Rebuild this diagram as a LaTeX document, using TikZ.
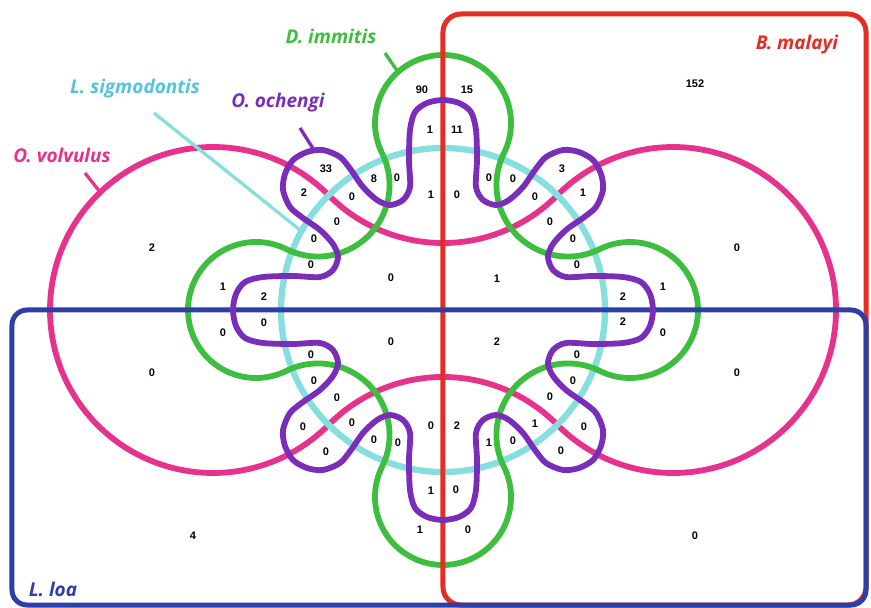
\documentclass[tikz,border=0pt]{standalone}
\usepackage{fontspec}
\setmainfont{Open Sans}
\newfontfamily\numfont{Liberation Sans}
\usepackage{xcolor}
\definecolor{cMal}{RGB}{228,45,35}
\definecolor{cLoa}{RGB}{45,62,165}
\definecolor{cDim}{RGB}{62,190,62}
\definecolor{cSig}{RGB}{135,222,222}
\definecolor{cSigTxt}{RGB}{85,195,220}
\definecolor{cOch}{RGB}{122,45,185}
\definecolor{cVol}{RGB}{230,50,140}

\begin{document}
\begin{tikzpicture}[
  x=1pt,y=1pt,
  set/.style={line width=5.8pt},
  box/.style={line width=5pt},
  tick/.style={line width=3.3pt},
  num/.style={font=\numfont\bfseries\fontsize{11}{12}\selectfont,inner sep=0pt},
  lab/.style={font=\bfseries\itshape\fontsize{19}{22}\selectfont,inner sep=0pt}
]
\useasboundingbox (-443,-298) rectangle (428,310);

% O. volvulus: two lobes joined by two arcs
\draw[set,cVol] (-230,0) ++(44.68:163)
  arc[start angle=44.68,end angle=315.32,radius=163]
  arc[start angle=135.32,end angle=44.68,radius=160.5]
  arc[start angle=224.68,end angle=495.32,radius=163]
  arc[start angle=-44.68,end angle=-135.32,radius=160.5] -- cycle;

% L. sigmodontis
\draw[set,cSig,line width=6.3pt] (0,0) circle[radius=162];

% D. immitis: four lobes
\draw[set,cDim] (60.92,156.78)
  arc[start angle=-26.38,end angle=206.38,radius=68]
  arc[start angle=26.38,end angle=-116.38,radius=71.53]
  arc[start angle=63.62,end angle=296.38,radius=68]
  arc[start angle=116.38,end angle=-26.38,radius=71.53]
  arc[start angle=153.62,end angle=386.38,radius=68]
  arc[start angle=206.38,end angle=63.62,radius=71.53]
  arc[start angle=-116.38,end angle=116.38,radius=68]
  arc[start angle=296.38,end angle=153.62,radius=71.53] -- cycle;

% B. malayi and L. loa
\draw[box,cMal,rounded corners=18] (0,-295) rectangle (423,296);
\draw[box,cLoa,rounded corners=15] (-431,-295) rectangle (423,0);

% O. ochengi
\draw[set,cOch] plot[smooth cycle] coordinates {
  (0,210) (-16,207) (-28,198) (-33,180) (-34,150) (-33,123) (-40,110) (-53,105)
  (-66,110) (-80,123) (-92,140) (-103,153) (-120,160) (-136,158) (-150,150)
  (-158,136) (-160,120) (-153,103) (-140,92) (-123,80) (-110,66) (-105,53)
  (-110,40) (-123,33) (-150,34) (-180,33) (-198,28) (-207,16)
  (-210,0) (-207,-16) (-198,-28) (-180,-33) (-150,-34) (-123,-33) (-110,-40)
  (-105,-53) (-110,-66) (-123,-80) (-140,-92) (-153,-103) (-160,-120) (-158,-136)
  (-150,-150) (-136,-158) (-120,-160) (-103,-153) (-92,-140) (-80,-123) (-66,-110)
  (-53,-105) (-40,-110) (-33,-123) (-34,-150) (-33,-180) (-28,-198) (-16,-207)
  (0,-210) (16,-207) (28,-198) (33,-180) (34,-150) (33,-123) (40,-110) (53,-105)
  (66,-110) (80,-123) (92,-140) (103,-153) (120,-160) (136,-158) (150,-150)
  (158,-136) (160,-120) (153,-103) (140,-92) (123,-80) (110,-66) (105,-53)
  (110,-40) (123,-33) (150,-34) (180,-33) (198,-28) (207,-16)
  (210,0) (207,16) (198,28) (180,33) (150,34) (123,33) (110,40) (105,53)
  (110,66) (123,80) (140,92) (153,103) (160,120) (158,136) (150,150)
  (136,158) (120,160) (103,153) (92,140) (80,123) (66,110) (53,105)
  (40,110) (33,123) (34,150) (33,180) (28,198) (16,207)};

% set names
\node[lab,text=cDim] (dim) at (-112,274) {D. immitis};
\node[lab,text=cSigTxt] (sig) at (-308,221) {L. sigmodontis};
\node[lab,text=cOch] (och) at (-165,207) {O. ochengi};
\node[lab,text=cVol] (vol) at (-381,155) {O. volvulus};
\node[lab,text=cMal] (mal) at (354,265) {B. malayi};
\node[lab,text=cLoa] (loa) at (-390,-279) {L. loa};

% leaders
\coordinate (dimA) at (-58,257);  \coordinate (dimB) at (-45,238);
\coordinate (sigA) at (-289,197); \coordinate (sigB) at (-143,80);
\coordinate (ochA) at (-143,182); \coordinate (ochB) at (-129,160);
\coordinate (volA) at (-358,137); \coordinate (volB) at (-343,118);
\draw[tick,cDim] (dimA) -- (dimB);
\draw[tick,cSig] (sigA) -- (sigB);
\draw[tick,cOch] (ochA) -- (ochB);
\draw[tick,cVol] (volA) -- (volB);

% counts
\foreach \p/\t [count=\i] in {
  (-21,220)/90, (24,220)/15, (-13,180)/1, (14,180)/11,
  (-117,141)/33, (-139,117)/2, (-69,131)/8, (-46,132)/0, (-91,113)/0,
  (-12,115)/1, (14,115)/0, (46,132)/0, (70,131)/0, (119,141)/3,
  (140,117)/1, (92,113)/0, (-106,88)/0, (107,88)/0, (-129,71)/0,
  (130,71)/0, (-132,45)/0, (134,45)/0, (-52,32)/0, (54,31)/1,
  (-220,23)/1, (-179,13)/2, (180,13)/2, (220,23)/1,
  (-179,-13)/0, (-220,-23)/0, (180,-12)/2, (220,-23)/0,
  (-52,-32)/0, (54,-32)/2, (-132,-45)/0, (134,-45)/0,
  (-129,-71)/0, (130,-71)/0, (-106,-88)/0, (107,-87)/0,
  (-140,-117)/0, (-91,-113)/0, (-117,-142)/0, (-69,-130)/0,
  (-45,-133)/0, (-12,-116)/0, (14,-116)/2, (46,-133)/1,
  (70,-131)/0, (92,-114)/1, (141,-117)/0, (118,-141)/0,
  (-12,-181)/1, (13,-180)/0, (-23,-220)/1, (25,-220)/0,
  (-291,62)/2, (-291,-63)/0, (-250,-226)/4, (252,226)/152,
  (294,62)/0, (294,-63)/0, (252,-226)/0}
  \node[num] (n\i) at \p {\t};
\end{tikzpicture}
\end{document}
